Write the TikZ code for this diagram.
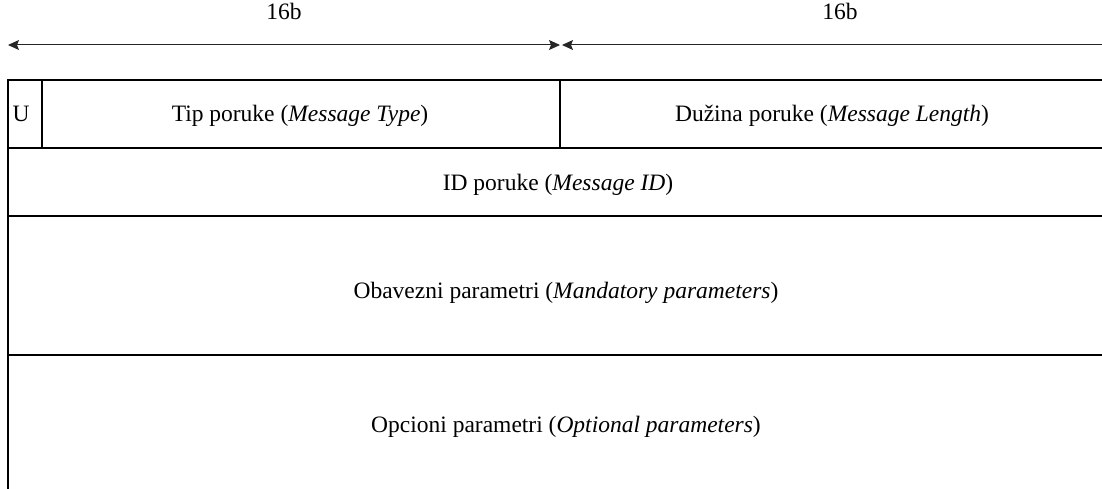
\documentclass[tikz,border=0pt]{standalone}
\usepackage{fontspec}
\setmainfont{Liberation Serif}
\usetikzlibrary{arrows.meta}
\begin{document}
\begin{tikzpicture}[x=1pt,y=-1pt,
  frame/.style={line width=1.5pt,black},
  tipstyle/.style={Stealth[length=11pt,width=10pt,inset=2pt]},
  dimline/.style={line width=1pt,black!85},
  lbl/.style={font=\fontsize{23.5}{28}\selectfont,inner sep=0pt,anchor=base}]
\useasboundingbox (0,0) rectangle (1102,489);
% dimension coordinates
\coordinate (aL) at (8,45);
\coordinate (aM) at (560,45);
\coordinate (aM2) at (562,45);
\coordinate (aR) at (1140,45);
\draw[dimline,{Stealth[length=11pt,width=10pt,inset=2pt]}-{Stealth[length=11pt,width=10pt,inset=2pt]}] (aL) -- (aM);
\draw[dimline,{Stealth[length=11pt,width=10pt,inset=2pt]}-] (aM2) -- (aR);
\node[lbl] (b1) at (284,20) {16b};
\node[lbl] (b2) at (840,20) {16b};
% table frame
\draw[frame] (1110,80) -- (8,80) -- (8,495);
\draw[frame] (8,148) -- (1110,148);
\draw[frame] (8,216) -- (1110,216);
\draw[frame] (8,355) -- (1110,355);
\draw[frame] (42,80) -- (42,148);
\draw[frame] (560,80) -- (560,148);
% labels
\node[lbl] (u) at (21,122) {U};
\node[lbl] (tip) at (300,122) {Tip poruke (\textit{Message Type})};
\node[lbl] (duz) at (832,122) {Dužina poruke (\textit{Message Length})};
\node[lbl] (id) at (558,190) {ID poruke (\textit{Message ID})};
\node[lbl] (oba) at (566,298) {Obavezni parametri (\textit{Mandatory parameters})};
\node[lbl] (opc) at (566,432) {Opcioni parametri (\textit{Optional parameters})};
\end{tikzpicture}
\end{document}
